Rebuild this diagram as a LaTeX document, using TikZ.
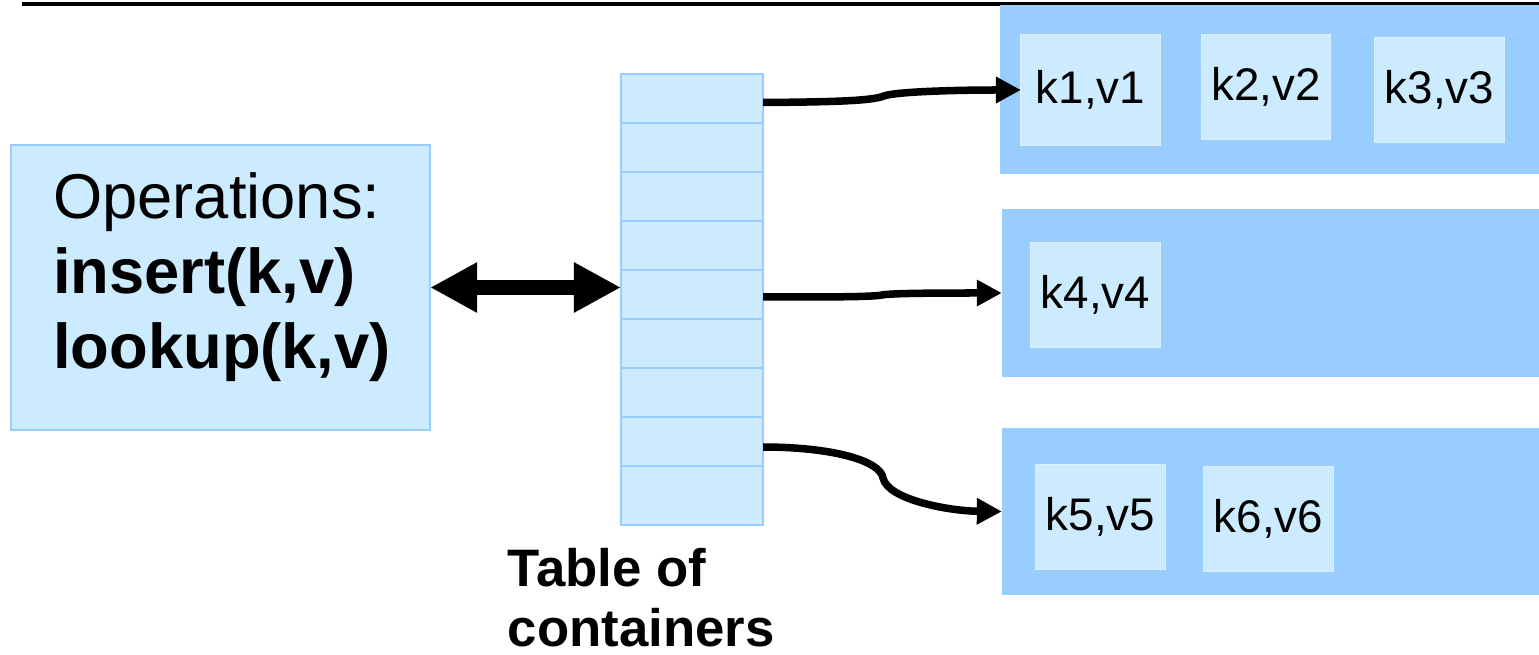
\documentclass[tikz,border=0pt]{standalone}
\usepackage{fontspec}
\setmainfont{Liberation Sans}
\usetikzlibrary{arrows.meta}
\definecolor{lightb}{HTML}{CCEBFF}
\definecolor{midb}{HTML}{99CCFF}
\tikzset{
  opsbox/.style={draw=midb, line width=0.025cm, fill=lightb, inner sep=0pt, outer sep=0pt},
  cell/.style={draw=midb, line width=0.025cm, fill=lightb, inner sep=0pt, outer sep=0pt, minimum width=1.42cm},
  contbox/.style={fill=midb, inner sep=0pt, outer sep=0pt},
  kvbox/.style={fill=lightb, draw=lightb!70!white, line width=0.01cm, inner sep=0pt, outer sep=0pt, font=\fontsize{13}{15}\selectfont},
  link/.style={line width=0.075cm, -{Triangle[length=0.25cm,width=0.25cm]}},
  bigarrow/.style={line width=0.15cm, {Triangle[length=0.47cm,width=0.47cm]}-{Triangle[length=0.47cm,width=0.47cm]}},
}
\begin{document}
\begin{tikzpicture}[x=0.01cm,y=-0.01cm]
\useasboundingbox (0,0) rectangle (1539,655);
\fill[white] (0,0) rectangle (1539,655);
% top rule
\coordinate (ruleL) at (22,4);
\coordinate (ruleR) at (1539,4);
\draw[line width=0.035cm] (ruleL) -- (ruleR);
% operations box
\node[opsbox, minimum width=4.19cm, minimum height=2.85cm] (ops) at (220.5,287.5) {};
\node[align=left, inner sep=0pt, font=\fontsize{18}{21.3}\selectfont] (opstext) at (222,277)
  {Operations:\\\textbf{insert(k,v)}\\\textbf{lookup(k,v)}};
% table of containers
\node[cell, minimum height=0.49cm] (r1) at (692,98.5) {};
\node[cell, minimum height=0.49cm] (r2) at (692,147.5) {};
\node[cell, minimum height=0.49cm] (r3) at (692,196.5) {};
\node[cell, minimum height=0.49cm] (r4) at (692,245.5) {};
\node[cell, minimum height=0.49cm] (r5) at (692,294.5) {};
\node[cell, minimum height=0.49cm] (r6) at (692,343.5) {};
\node[cell, minimum height=0.49cm] (r7) at (692,392.5) {};
\node[cell, minimum height=0.49cm] (r8) at (692,441.5) {};
\node[cell, minimum height=0.59cm] (r9) at (692,495.5) {};
\node[anchor=west, align=left, font=\fontsize{15}{17}\bfseries\selectfont, inner sep=0pt] (lbl) at (507,598)
  {Table of\\containers};
% containers
\node[contbox, minimum width=5.39cm, minimum height=1.69cm] (c1) at (1269.5,89.5) {};
\node[contbox, minimum width=5.37cm, minimum height=1.68cm] (c2) at (1270.5,293) {};
\node[contbox, minimum width=5.37cm, minimum height=1.67cm] (c3) at (1270.5,511.5) {};
% key/value boxes
\node[kvbox, minimum width=1.39cm, minimum height=1.10cm] (k1) at (1090.5,90) {k1,v1};
\node[kvbox, minimum width=1.28cm, minimum height=1.04cm] (k2) at (1266,87) {k2,v2};
\node[kvbox, minimum width=1.29cm, minimum height=1.04cm] (k3) at (1439.5,90) {k3,v3};
\node[kvbox, minimum width=1.29cm, minimum height=1.04cm] (k4) at (1095.5,295) {k4,v4};
\node[kvbox, minimum width=1.29cm, minimum height=1.04cm] (k5) at (1100.5,517) {k5,v5};
\node[kvbox, minimum width=1.29cm, minimum height=1.04cm] (k6) at (1268.5,519) {k6,v6};
% connectors
\draw[bigarrow] (ops.east) -- (ops.east -| r5.west);
\draw[link] ([yshift=-0.04cm]r1.east) .. controls (830,102) and (872,101) .. (884,96)
   .. controls (894,92) and (950,90) .. (k1.west);
\draw[link] ([yshift=-0.025cm]r5.east) .. controls (830,297) and (872,297) .. (882,295)
   .. controls (892,293) and (950,293) .. (c2.west);
\draw[link] ([yshift=-0.055cm]r8.east) .. controls (830,447) and (880,460) .. (883,478)
   .. controls (888,500) and (950,511) .. (c3.west);
\end{tikzpicture}
\end{document}
